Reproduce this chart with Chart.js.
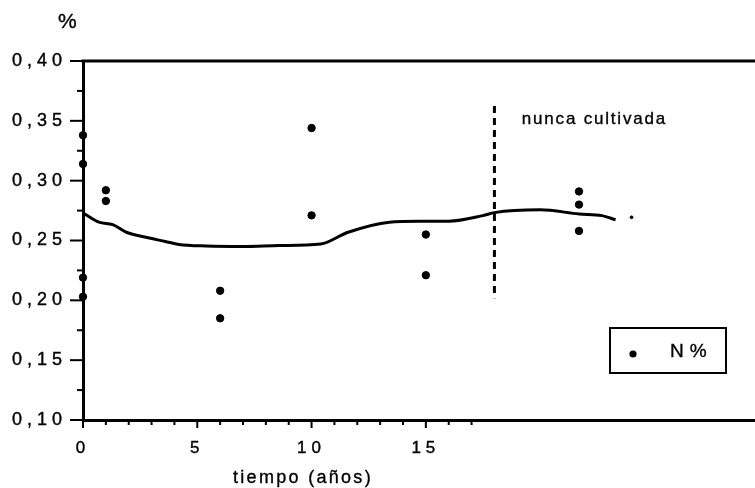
<!DOCTYPE html>
<html lang="es">
<head>
    <meta charset="UTF-8">
    <title>N% - tiempo</title>
    <script src="https://cdn.jsdelivr.net/npm/chart.js@4.4.1/dist/chart.umd.min.js"></script>
    <style>
        html, body { margin: 0; padding: 0; background: #fff; overflow: hidden; }
        .chart-box { width: 755px; height: 488px; }
    </style>
</head>
<body>
<div class="chart-box"><canvas id="nChart"></canvas></div>

<script>
    // measured samples (N%)
    const sampleYears = [0, 0, 0, 0, 1, 1, 6, 6, 10, 10, 15, 15, 21.7, 21.7, 21.7];
    const sampleN = [0.338, 0.314, 0.219, 0.203, 0.292, 0.283, 0.208, 0.185, 0.344, 0.271, 0.255, 0.221, 0.291, 0.280, 0.258];

    // fitted curve
    const curveYears = [0, 0.7, 1.3, 1.9, 2.8, 3.6, 4.2, 5.4, 7, 8.6, 10.4, 11.6, 13.4, 14.7, 16, 17.5, 18, 20, 21.7, 22.7, 23.3];
    const curveN = [0.273, 0.2653, 0.2633, 0.2569, 0.2525, 0.2492, 0.2467, 0.2454, 0.245, 0.2458, 0.2471, 0.2569, 0.2653, 0.2661, 0.2661, 0.2708, 0.2733, 0.2756, 0.2722, 0.2708, 0.2673];

    // small stray dot after the curve
    const strayYears = [24];
    const strayN = [0.2694];

    const xLabelYears = [0, 5, 10, 15];
    const xTickLast = 17;
    const yMajor = [0.10, 0.15, 0.20, 0.25, 0.30, 0.35, 0.40];
    const yMinor = [0.125, 0.175, 0.225, 0.275, 0.325, 0.375];

    const boundaryYear = 18;
    const boundaryN = [0.2017, 0.3625];
    const noteText = 'nunca cultivada';
    const notePos = [19.2, 0.3475];

    const FONT = '"Liberation Sans", Arial, Helvetica, sans-serif';

    function toPoints(xs, ys) {
        return xs.map((v, i) => ({ x: v, y: ys[i] }));
    }

    function strokeLine(ctx, x1, y1, x2, y2) {
        ctx.beginPath();
        ctx.moveTo(x1, y1);
        ctx.lineTo(x2, y2);
        ctx.stroke();
    }

    // filled text with a thin outline, to get the heavier print look
    function heavyText(ctx, text, px, py) {
        ctx.lineWidth = 0.35;
        ctx.strokeText(text, px, py);
        ctx.fillText(text, px, py);
    }

    // frame, tick marks, annotations and legend box
    const frame = {
        id: 'frame',
        beforeDraw(chart) {
            chart.ctx.letterSpacing = '5px';
        },
        afterDraw(chart) {
            const { ctx, chartArea: area, scales: { x, y } } = chart;
            ctx.save();
            ctx.letterSpacing = '0px';
            ctx.strokeStyle = '#000';
            ctx.fillStyle = '#000';

            // top edge
            ctx.lineWidth = 3;
            strokeLine(ctx, area.left - 1.5, area.top, area.right, area.top);

            // y tick marks
            ctx.lineWidth = 2;
            yMajor.forEach(v => {
                const py = y.getPixelForValue(v);
                strokeLine(ctx, area.left - 13, py, area.left, py);
            });
            yMinor.forEach(v => {
                const py = y.getPixelForValue(v);
                strokeLine(ctx, area.left - 6, py, area.left, py);
            });

            // x tick marks
            for (let yr = 0; yr <= xTickLast; yr++) {
                const px = x.getPixelForValue(yr);
                strokeLine(ctx, px, area.bottom, px, area.bottom + (yr % 5 === 0 ? 8 : 5));
            }

            // boundary
            ctx.lineWidth = 3;
            ctx.setLineDash([7, 5]);
            const bx = x.getPixelForValue(boundaryYear);
            strokeLine(ctx, bx, y.getPixelForValue(boundaryN[1]), bx, y.getPixelForValue(boundaryN[0]));
            ctx.setLineDash([]);

            ctx.textAlign = 'left';
            ctx.textBaseline = 'alphabetic';

            ctx.font = '17px ' + FONT;
            ctx.letterSpacing = '1.8px';
            heavyText(ctx, noteText, x.getPixelForValue(notePos[0]), y.getPixelForValue(notePos[1]));

            ctx.font = '21px ' + FONT;
            ctx.letterSpacing = '0px';
            heavyText(ctx, '%', 58, 28);

            ctx.font = '18px ' + FONT;
            ctx.letterSpacing = '2.3px';
            heavyText(ctx, 'tiempo (años)', 233, 483);

            // legend
            ctx.lineWidth = 2;
            ctx.strokeRect(610, 328, 116, 45);
            ctx.beginPath();
            ctx.arc(633, 354, 3.6, 0, Math.PI * 2);
            ctx.fill();
            ctx.font = '19px ' + FONT;
            ctx.letterSpacing = '6px';
            heavyText(ctx, 'N%', 670, 357);

            ctx.restore();
        }
    };

    new Chart(document.getElementById('nChart'), {
        type: 'scatter',
        data: {
            datasets: [
                {
                    type: 'line',
                    label: 'ajuste',
                    data: toPoints(curveYears, curveN),
                    borderColor: '#000',
                    borderWidth: 3,
                    pointRadius: 0,
                    cubicInterpolationMode: 'monotone',
                    fill: false,
                    clip: false
                },
                {
                    label: 'N%',
                    data: toPoints(sampleYears, sampleN),
                    backgroundColor: '#000',
                    borderColor: '#000',
                    pointRadius: 3.7,
                    clip: false
                },
                {
                    label: 'extra',
                    data: toPoints(strayYears, strayN),
                    backgroundColor: '#000',
                    borderColor: '#000',
                    pointRadius: 1.4,
                    clip: false
                }
            ]
        },
        options: {
            responsive: true,
            maintainAspectRatio: false,
            animation: false,
            layout: { autoPadding: false, padding: { top: 61, left: 0, right: 0, bottom: 0 } },
            plugins: {
                legend: { display: false },
                tooltip: { enabled: false }
            },
            scales: {
                x: {
                    type: 'linear',
                    min: 0,
                    max: 29.4,
                    grid: { display: false, drawTicks: false },
                    border: { display: true, color: '#000', width: 3 },
                    ticks: {
                        stepSize: 1,
                        autoSkip: false,
                        maxRotation: 0,
                        padding: 18,
                        color: '#000',
                        textStrokeColor: '#000',
                        textStrokeWidth: 0.4,
                        font: { family: FONT, size: 17 },
                        callback: v => xLabelYears.includes(v) ? String(v) : ''
                    },
                    afterFit(scale) {
                        scale.height = 68;
                        scale.paddingLeft = 0;
                        scale.paddingRight = 0;
                    }
                },
                y: {
                    min: 0.10,
                    max: 0.40,
                    grid: { display: false, drawTicks: false },
                    border: { display: true, color: '#000', width: 3 },
                    ticks: {
                        stepSize: 0.05,
                        padding: 16,
                        color: '#000',
                        textStrokeColor: '#000',
                        textStrokeWidth: 0.4,
                        font: { family: FONT, size: 18 },
                        callback: v => v.toFixed(2).replace('.', ',')
                    },
                    afterFit(scale) {
                        scale.width = 83;
                        scale.paddingTop = 0;
                        scale.paddingBottom = 0;
                    }
                }
            }
        },
        plugins: [frame]
    });
</script>
</body>
</html>
